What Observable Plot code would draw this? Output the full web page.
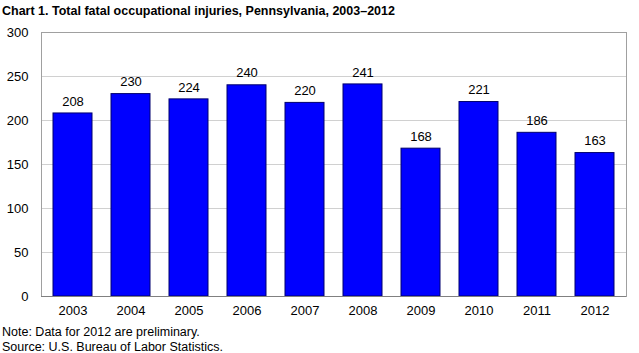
<!DOCTYPE html>
<html><head><meta charset="utf-8">
<script src="https://cdn.jsdelivr.net/npm/d3@7"></script>
<script src="https://cdn.jsdelivr.net/npm/@observablehq/plot@0.6"></script>
<style>
body{margin:0;background:#fff;font-family:"Liberation Sans",Arial,sans-serif;width:639px;height:353px;overflow:hidden}
#title{font-weight:bold;font-size:12.5px;padding:4px 0 0 2px;height:18px;line-height:14px}
#notes{font-size:12.5px;line-height:15px;padding-left:2px;margin-top:1px}
</style></head><body>
<div id="title">Chart 1. Total fatal occupational injuries, Pennsylvania, 2003–2012</div>
<div id="chart"></div>
<div id="notes">Note: Data for 2012 are preliminary.<br>Source: U.S. Bureau of Labor Statistics.</div>
<script>
const years = ["2003","2004","2005","2006","2007","2008","2009","2010","2011","2012"];
const fatalities = [208,230,224,240,220,241,168,221,186,163];
const yTicks = [0,50,100,150,200,250,300];
const data = years.map((y,i)=>({year:y, value:fatalities[i]}));
const chart = Plot.plot({
  width:639, height:302,
  marginLeft:41, marginRight:13, marginTop:10, marginBottom:28,
  style:{fontFamily:"Liberation Sans, Arial, sans-serif", fontSize:"13px", color:"#000"},
  x:{domain:years, paddingInner:0.32, paddingOuter:0.16, label:null, tickSize:0, tickPadding:9},
  y:{domain:[0,300], ticks:yTicks, label:null, tickSize:0, tickPadding:13},
  marks:[
    Plot.gridY(yTicks, {stroke:"#d0d0d0", strokeOpacity:1}),
    Plot.frame({stroke:"#a0a0a0"}),
    Plot.barY(data, {x:"year", y:"value", fill:"#0000ff", stroke:"#00006e", strokeWidth:1}),
    Plot.text(data, {x:"year", y:"value", text:d=>String(d.value), dy:-12, fontSize:13, fill:"#000"}),
    Plot.ruleY([0], {stroke:"#808080"})
  ]
});
document.getElementById("chart").append(chart);
</script></body></html>
